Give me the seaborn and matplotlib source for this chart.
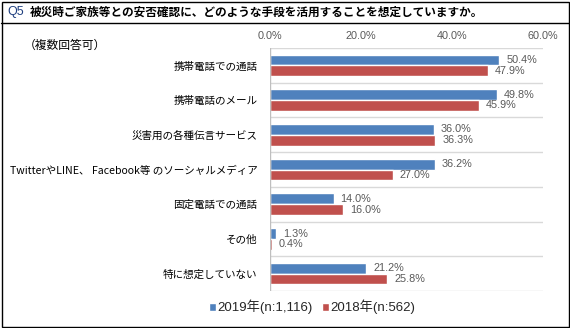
import matplotlib
matplotlib.use("Agg")
import matplotlib.pyplot as plt
from matplotlib.patches import Rectangle
from matplotlib.lines import Line2D
import seaborn as sns
import pandas as pd

categories = [
    "携帯電話での通話",
    "携帯電話のメール",
    "災害用の各種伝言サービス",
    "TwitterやLINE、 Facebook等 のソーシャルメディア",
    "固定電話での通話",
    "その他",
    "特に想定していない",
]
series_names = ["2019年(n:1,116)", "2018年(n:562)"]
values_2019 = [50.4, 49.8, 36.0, 36.2, 14.0, 1.3, 21.2]
values_2018 = [47.9, 45.9, 36.3, 27.0, 16.0, 0.4, 25.8]
x_ticks = [0, 20, 40, 60]
x_tick_labels = ["0.0%", "20.0%", "40.0%", "60.0%"]
title_q = "Q5"
title_text = "被災時ご家族等との安否確認に、どのような手段を活用することを想定していますか。"
note_text = "（複数回答可）"

colors = ["#4F81BD", "#C0504D"]

sns.set_theme(style="white")
plt.rcParams["font.family"] = ["Noto Sans CJK JP", "DejaVu Sans"]

df = pd.DataFrame({
    "category": categories * 2,
    "value": values_2019 + values_2018,
    "series": [series_names[0]] * len(categories) + [series_names[1]] * len(categories),
})

W, H = 570, 328
fig = plt.figure(figsize=(W / 100, H / 100), dpi=100)
ax = fig.add_axes([270 / W, 1 - 291 / H, (543 - 270) / W, (291 - 48) / H])

sns.barplot(data=df, x="value", y="category", hue="series", hue_order=series_names,
            order=categories, palette=colors, orient="y", width=0.62,
            saturation=1, ax=ax, legend=True)

ax.set_xlim(0, 60)
ax.set_ylim(len(categories) - 0.5, -0.5)
ax.set_xlabel("")
ax.set_ylabel("")
for s in ax.spines.values():
    s.set_visible(False)
ax.axvline(0, color="#BFBFBF", lw=1, zorder=3)
for b in [i - 0.5 for i in range(len(categories) + 1)]:
    ax.axhline(b, color="#D9D9D9", lw=1, zorder=0)

ax.xaxis.tick_top()
ax.set_xticks(x_ticks)
ax.set_xticklabels(x_tick_labels, fontsize=7.8, color="#595959",
                   family=["Liberation Sans", "DejaVu Sans"])
ax.tick_params(axis="x", length=0, pad=5)
ax.tick_params(axis="y", length=0, pad=9)
for lbl in ax.get_yticklabels():
    lbl.set_fontsize(7.6)
    lbl.set_color("black")

for cont in ax.containers:
    ax.bar_label(cont, labels=[f"{v:.1f}%" for v in cont.datavalues], padding=5,
                 fontsize=7.8, color="#595959",
                 family=["Liberation Sans", "DejaVu Sans"])

handles, labels = ax.get_legend_handles_labels()
ax.get_legend().remove()
fig.legend(handles, labels, loc="center", bbox_to_anchor=(312 / W, 1 - 307 / H),
           ncol=2, frameon=False, handlelength=0.55, handleheight=0.55,
           handletextpad=0.1, columnspacing=0.7,
           prop={"family": ["Liberation Sans", "Noto Sans CJK JP"], "size": 9.5})

# title band and frame
fig.text(7 / W, 1 - 12 / H, title_q, fontsize=9, color="#1F3F7F",
         va="center", ha="left", family=["Liberation Sans", "DejaVu Sans"])
fig.text(30 / W, 1 - 12 / H, title_text, fontsize=8.4, fontweight="bold", color="black",
         va="center", ha="left")
fig.text(24 / W, 1 - 45 / H, note_text, fontsize=8.5, color="black", va="center", ha="left")

fig.add_artist(Line2D([1 / W, 1 - 1 / W], [1 - 23 / H, 1 - 23 / H], color="black", lw=1))
fig.add_artist(Rectangle((1.5 / W, 1.5 / H), 1 - 3 / W, 1 - 3 / H, fill=False,
                         edgecolor="black", lw=1, transform=fig.transFigure))

fig.savefig("out.png", dpi=100)
